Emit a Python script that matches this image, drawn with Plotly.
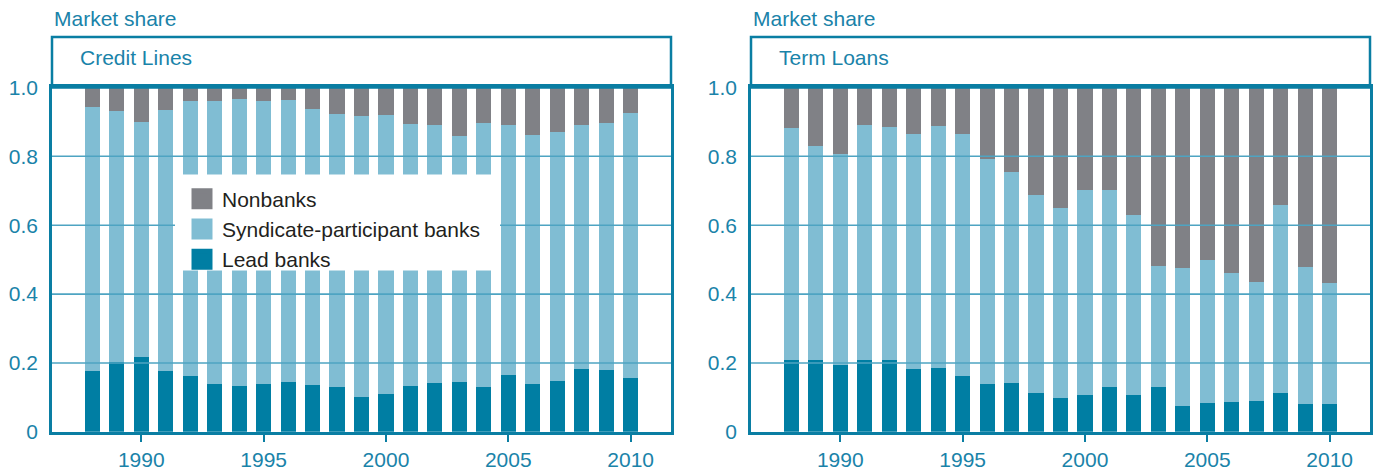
import plotly.graph_objects as go

years = list(range(1988, 2011))

# Credit Lines shares
cl_lead = [0.176, 0.202, 0.216, 0.176, 0.162, 0.139, 0.133, 0.139, 0.145, 0.136, 0.130, 0.102,
           0.110, 0.133, 0.142, 0.145, 0.130, 0.165, 0.139, 0.148, 0.182, 0.179, 0.156]
cl_synd = [0.767, 0.730, 0.684, 0.759, 0.799, 0.822, 0.833, 0.822, 0.818, 0.802, 0.793, 0.815,
           0.810, 0.761, 0.749, 0.715, 0.767, 0.726, 0.723, 0.723, 0.709, 0.718, 0.770]
cl_non = [0.057, 0.068, 0.100, 0.065, 0.039, 0.039, 0.034, 0.039, 0.037, 0.062, 0.077, 0.083,
          0.080, 0.106, 0.109, 0.140, 0.103, 0.109, 0.138, 0.129, 0.109, 0.103, 0.074]

# Term Loans shares
tl_lead = [0.208, 0.208, 0.193, 0.208, 0.210, 0.182, 0.185, 0.162, 0.139, 0.142, 0.113, 0.099,
           0.108, 0.130, 0.108, 0.130, 0.076, 0.085, 0.088, 0.090, 0.113, 0.082, 0.082]
tl_synd = [0.675, 0.621, 0.613, 0.684, 0.676, 0.684, 0.704, 0.704, 0.652, 0.612, 0.575, 0.552,
           0.594, 0.572, 0.523, 0.352, 0.400, 0.414, 0.373, 0.345, 0.547, 0.397, 0.350]
tl_non = [0.117, 0.171, 0.194, 0.108, 0.114, 0.134, 0.111, 0.134, 0.209, 0.246, 0.312, 0.349,
          0.298, 0.298, 0.369, 0.518, 0.524, 0.501, 0.539, 0.565, 0.340, 0.521, 0.568]

series_names = ["Lead banks", "Syndicate-participant banks", "Nonbanks"]
panel_titles = ["Credit Lines", "Term Loans"]
y_ticks = [0, 0.2, 0.4, 0.6, 0.8, 1.0]
y_ticktext = ["0", "0.2", "0.4", "0.6", "0.8", "1.0"]
x_ticks = [1990, 1995, 2000, 2005, 2010]

C_LEAD = "#007ea3"
C_SYND = "#80bdd3"
C_NON = "#808186"
TEAL = "#0a7ea3"
TEXT_TEAL = "#1a83a9"
GRID = "#4ea4c2"
FONT = "Liberation Sans"

W, H = 1374, 471


def py(px):
    """Pixel row (from top) -> paper fraction, compensating for observed vertical offset."""
    return 1 - ((px - 11.8) * 1.0476) / H


colors = [C_LEAD, C_SYND, C_NON]

fig = go.Figure()
panels = [(cl_lead, cl_synd, cl_non), (tl_lead, tl_synd, tl_non)]
for p, data in enumerate(panels):
    xa = "x" if p == 0 else "x2"
    ya = "y" if p == 0 else "y2"
    for name, vals, col in zip(series_names, data, colors):
        fig.add_trace(go.Bar(
            x=years, y=vals, name=name, marker=dict(color=col, line=dict(width=0)),
            xaxis=xa, yaxis=ya, showlegend=False, legendgroup=name,
        ))

# legend entries (square swatches, no data marks)
for name, col in zip(series_names, colors):
    fig.add_trace(go.Scatter(
        x=[None], y=[None], mode="markers", name=name, legendgroup=name,
        marker=dict(symbol="square", size=16, color=col, line=dict(color=col, width=5)),
        xaxis="x", yaxis="y", hoverinfo="skip",
    ))

xdoms = [[52 / W, 671 / W], [751 / W, 1370 / W]]
ydom = [py(436), py(88)]

axis_common_x = dict(
    range=[1986.35, 2011.65], tickvals=x_ticks, ticks="outside", ticklen=7, tickwidth=1.5,
    tickcolor=TEAL, showgrid=False, showline=True, linecolor=TEAL, linewidth=2.5, mirror=True,
    tickfont=dict(family=FONT, size=21, color=TEXT_TEAL), zeroline=False, fixedrange=True,
)
axis_common_y = dict(
    range=[0, 1.0], tickvals=y_ticks, ticktext=y_ticktext, ticks="outside", ticklen=7,
    tickcolor="rgba(0,0,0,0)", showgrid=False, showline=True, linecolor=TEAL, linewidth=2.5,
    mirror=True, tickfont=dict(family=FONT, size=21, color=TEXT_TEAL), zeroline=False,
    fixedrange=True,
)

fig.update_layout(
    width=W, height=H, margin=dict(l=0, r=0, t=0, b=0),
    paper_bgcolor="white", plot_bgcolor="white",
    barmode="stack", bargap=0.38,
    xaxis=dict(domain=xdoms[0], anchor="y", **axis_common_x),
    yaxis=dict(domain=ydom, anchor="x", **axis_common_y),
    xaxis2=dict(domain=xdoms[1], anchor="y2", **axis_common_x),
    yaxis2=dict(domain=ydom, anchor="x2", **axis_common_y),
    legend=dict(
        x=182 / W, y=py(180), xanchor="left", yanchor="top", traceorder="reversed",
        bgcolor="rgba(0,0,0,0)", borderwidth=0, font=dict(family=FONT, size=21, color="#231f20"),
        itemclick=False, itemdoubleclick=False, tracegroupgap=0, itemsizing="trace",
    ),
    showlegend=True,
)

shapes = []
annotations = []
for p in range(2):
    xd = "x domain" if p == 0 else "x2 domain"
    yr = "y" if p == 0 else "y2"
    # gridlines drawn above the bars
    for v in y_ticks[1:-1]:
        shapes.append(dict(type="line", xref=xd, yref=yr, x0=0, x1=1, y0=v, y1=v,
                           line=dict(color=GRID, width=1.6), layer="above"))
# white legend panel covering the bars behind the legend
shapes.append(dict(type="rect", xref="paper", yref="paper", x0=175 / W, x1=500 / W,
                   y0=py(273), y1=py(176), line=dict(width=0), fillcolor="white", layer="above"))
for p in range(2):
    xd = "x domain" if p == 0 else "x2 domain"
    # title box above plot area
    shapes.append(dict(type="rect", xref=xd, yref="paper", x0=0, x1=1,
                       y0=ydom[1], y1=py(37),
                       line=dict(color=TEAL, width=2.5), fillcolor="rgba(0,0,0,0)", layer="above"))
    annotations.append(dict(text=panel_titles[p], xref=xd, yref="paper", x=0.0, y=py(58),
                            xshift=26, xanchor="left", yanchor="middle", showarrow=False,
                            font=dict(family=FONT, size=21, color=TEXT_TEAL)))
    annotations.append(dict(text="Market share", xref=xd, yref="paper", x=0.0, y=py(18),
                            xanchor="left", yanchor="middle", showarrow=False,
                            font=dict(family=FONT, size=21, color=TEXT_TEAL)))

fig.update_layout(shapes=shapes, annotations=annotations)

fig.write_html(
    "out.html",
    config={"displayModeBar": False},
    post_script="document.body.style.margin='0';document.body.style.overflow='hidden';",
)
